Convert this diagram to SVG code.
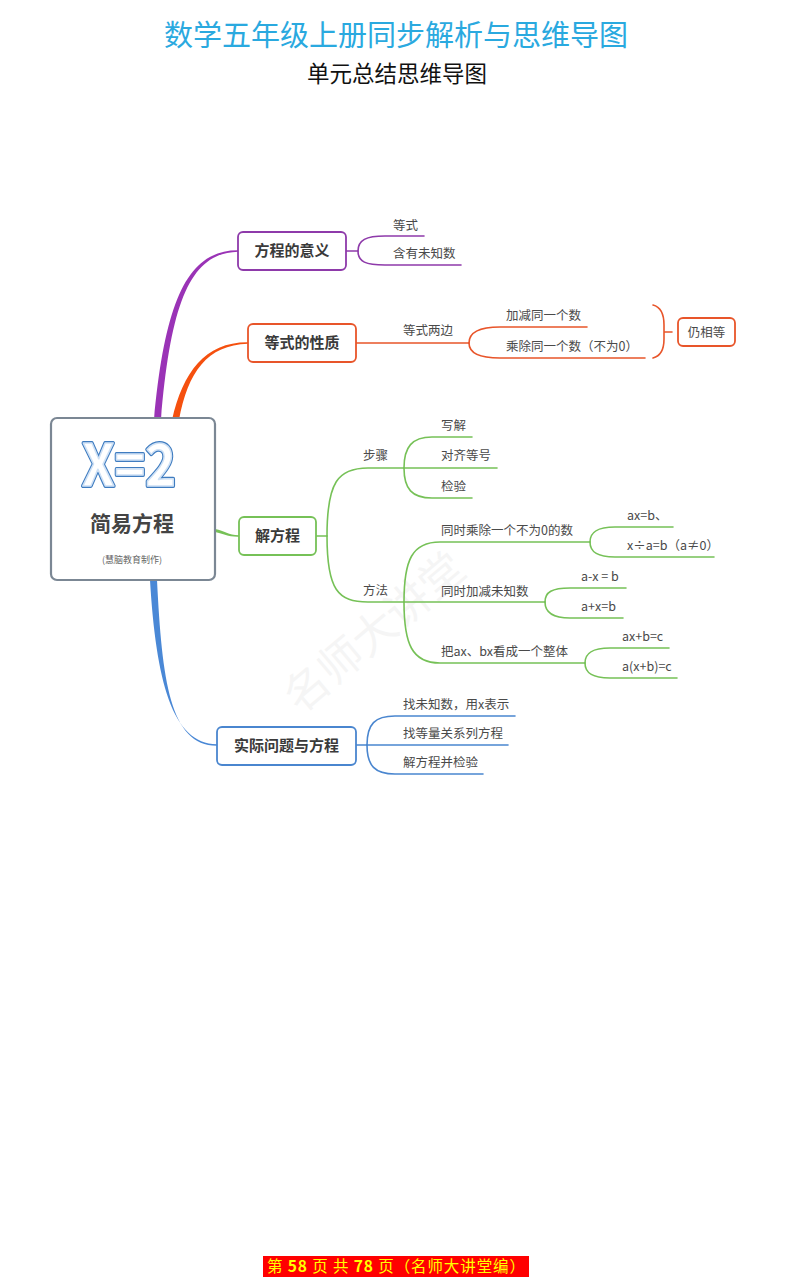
<svg xmlns="http://www.w3.org/2000/svg" width="786" height="1280" viewBox="0 0 786 1280">
<style>
text{font-family:"Noto Sans CJK SC","Liberation Sans",sans-serif;}
.node{fill:#fff;stroke-width:1.8;}
.nt{font-size:15px;font-weight:bold;fill:#3a3a3a;text-anchor:middle;}
.lt{font-size:12.5px;fill:#4a4a4a;}
.l{fill:none;stroke-width:1.6;stroke-linecap:round;}
.pu{stroke:#8e3aaa;} .or{stroke:#e8552a;} .gr{stroke:#76c157;} .bl{stroke:#4a86cf;}
</style>
<rect width="786" height="1280" fill="#fff"/>
<text x="396" y="46" font-size="29" fill="#2aa9df" text-anchor="middle">数学五年级上册同步解析与思维导图</text>
<text x="397" y="82" font-size="22.5" fill="#111" text-anchor="middle">单元总结思维导图</text>
<text x="300" y="715" font-size="44" fill="#000" opacity="0.035" transform="rotate(-40 300 715)">名师大讲堂</text>

<g id="connectors">
<path d="M154,420 C165,300 188,250 238,250.3 L238,251.7 C191,253 171,300 161,420 Z" fill="#9a33b6"/>
<path d="M172,420 C183,372 205,342 248,342.3 L248,343.7 C207,345 188,372 179,420 Z" fill="#f5500f"/>
<path d="M215,529 C225,531 228,535 239,535.3 L239,536.7 C228,537 224,534 215,532 Z" fill="#76c157"/>
<path d="M150,580 C156,680 172,744 217,744.3 L217,745.7 C170,746 162,680 157,580 Z" fill="#4a88d6"/>

<path class="l pu" d="M346,251 L358,251 C358,240 366,236 385,236 L424,236"/>
<path class="l pu" d="M358,251 C358,262 366,265 385,265 L461,265"/>

<path class="l or" d="M356,343 L469,343"/>
<path class="l or" d="M469,343 C469,333 478,327 500,327 L587,327"/>
<path class="l or" d="M469,343 C469,353 478,358 500,358 L645,358"/>
<path class="l or" d="M653,305 C661,307 664,315 664,325 L664,339 C664,349 661,356 653,358 M664,332 L672,332"/>

<path class="l gr" d="M316,536 L327,536"/>
<path class="l gr" d="M327,536 C327,482 338,468 368,468 L404,468"/>
<path class="l gr" d="M327,536 C327,590 338,602 368,602 L404,602"/>
<path class="l gr" d="M404,468 C404,447 412,437 432,437 L472,437"/>
<path class="l gr" d="M404,468 L497,468"/>
<path class="l gr" d="M404,468 C404,489 412,498 432,498 L472,498"/>
<path class="l gr" d="M404,602 C404,560 412,542 440,542 L590,542"/>
<path class="l gr" d="M404,602 L545,602"/>
<path class="l gr" d="M404,602 C404,644 412,663 440,663 L585,663"/>
<path class="l gr" d="M590,542 C590,532 597,527 615,527 L673,527"/>
<path class="l gr" d="M590,542 C590,552 597,557 615,557 L714,557"/>
<path class="l gr" d="M545,602 C545,592 552,588 570,588 L626,588"/>
<path class="l gr" d="M545,602 C545,612 552,618 570,618 L623,618"/>
<path class="l gr" d="M585,663 C585,653 592,648 610,648 L669,648"/>
<path class="l gr" d="M585,663 C585,673 592,678 610,678 L677,678"/>

<path class="l bl" d="M356,745 L367,745"/>
<path class="l bl" d="M367,745 C367,724 375,716 395,716 L515,716"/>
<path class="l bl" d="M367,745 L508,745"/>
<path class="l bl" d="M367,745 C367,766 375,774 395,774 L483,774"/>
</g>

<g id="center">
<rect x="51" y="418" width="164" height="162" rx="6" fill="#fff" stroke="#7b8794" stroke-width="2.2"/>
<text x="129" y="486" font-family="Liberation Sans,sans-serif" font-size="58" font-weight="bold" text-anchor="middle" textLength="94" lengthAdjust="spacingAndGlyphs" fill="#fff" stroke="#3f7cc0" stroke-width="4" stroke-linejoin="round">X=2</text>
<text x="129" y="486" font-family="Liberation Sans,sans-serif" font-size="58" font-weight="bold" text-anchor="middle" textLength="94" lengthAdjust="spacingAndGlyphs" fill="#fff" stroke="#cfe1f5" stroke-width="1.6" stroke-linejoin="round">X=2</text>
<text x="132" y="531" font-size="21" font-weight="bold" fill="#444" text-anchor="middle">简易方程</text>
<text x="132" y="563" font-size="9" fill="#666" text-anchor="middle">(慧脑教育制作)</text>
</g>

<g id="n1">
<rect class="node pu" x="238" y="232" width="108" height="38" rx="5"/>
<text class="nt" x="292" y="256">方程的意义</text>
</g>
<g id="n1a"><text class="lt" x="393" y="230">等式</text></g>
<g id="n1b"><text class="lt" x="393" y="258">含有未知数</text></g>

<g id="n2">
<rect class="node or" x="248" y="324" width="108" height="38" rx="5"/>
<text class="nt" x="302" y="348">等式的性质</text>
</g>
<g id="n2a"><text class="lt" x="403" y="335">等式两边</text></g>
<g id="n2b"><text class="lt" x="506" y="320">加减同一个数</text></g>
<g id="n2c"><text class="lt" x="506" y="351">乘除同一个数（不为0）</text></g>
<g id="n2d">
<rect class="node or" x="678" y="318" width="57" height="28" rx="5"/>
<text class="lt" x="706.5" y="337" text-anchor="middle">仍相等</text>
</g>

<g id="n3">
<rect class="node gr" x="239" y="517" width="77" height="38" rx="5"/>
<text class="nt" x="277.5" y="541">解方程</text>
</g>
<g id="n3a"><text class="lt" x="363" y="460">步骤</text></g>
<g id="n3b"><text class="lt" x="441" y="430">写解</text></g>
<g id="n3c"><text class="lt" x="441" y="460">对齐等号</text></g>
<g id="n3d"><text class="lt" x="441" y="491">检验</text></g>
<g id="n3e"><text class="lt" x="363" y="595">方法</text></g>
<g id="n3f"><text class="lt" x="441" y="535">同时乘除一个不为0的数</text></g>
<g id="n3g"><text class="lt" x="441" y="596">同时加减未知数</text></g>
<g id="n3h"><text class="lt" x="441" y="656">把ax、bx看成一个整体</text></g>
<g id="n3i"><text class="lt" x="627" y="520">ax=b、</text></g>
<g id="n3j"><text class="lt" x="627" y="550">x÷a=b（a≠0）</text></g>
<g id="n3k"><text class="lt" x="581" y="581">a-x = b</text></g>
<g id="n3l"><text class="lt" x="581" y="611">a+x=b</text></g>
<g id="n3m"><text class="lt" x="622" y="641">ax+b=c</text></g>
<g id="n3n"><text class="lt" x="622" y="671">a(x+b)=c</text></g>

<g id="n4">
<rect class="node bl" x="217" y="727" width="139" height="38" rx="5"/>
<text class="nt" x="286.5" y="751">实际问题与方程</text>
</g>
<g id="n4a"><text class="lt" x="403" y="709">找未知数，用x表示</text></g>
<g id="n4b"><text class="lt" x="403" y="738">找等量关系列方程</text></g>
<g id="n4c"><text class="lt" x="403" y="767">解方程并检验</text></g>

<g id="footer">
<rect x="263" y="1256" width="266" height="21" fill="#ff0000"/>
<text x="267" y="1272" font-size="15.5" fill="#ffff00" textLength="258" lengthAdjust="spacing">第 <tspan font-weight="bold">58</tspan> 页 共 <tspan font-weight="bold">78</tspan> 页（名师大讲堂编）</text>
</g>
</svg>
